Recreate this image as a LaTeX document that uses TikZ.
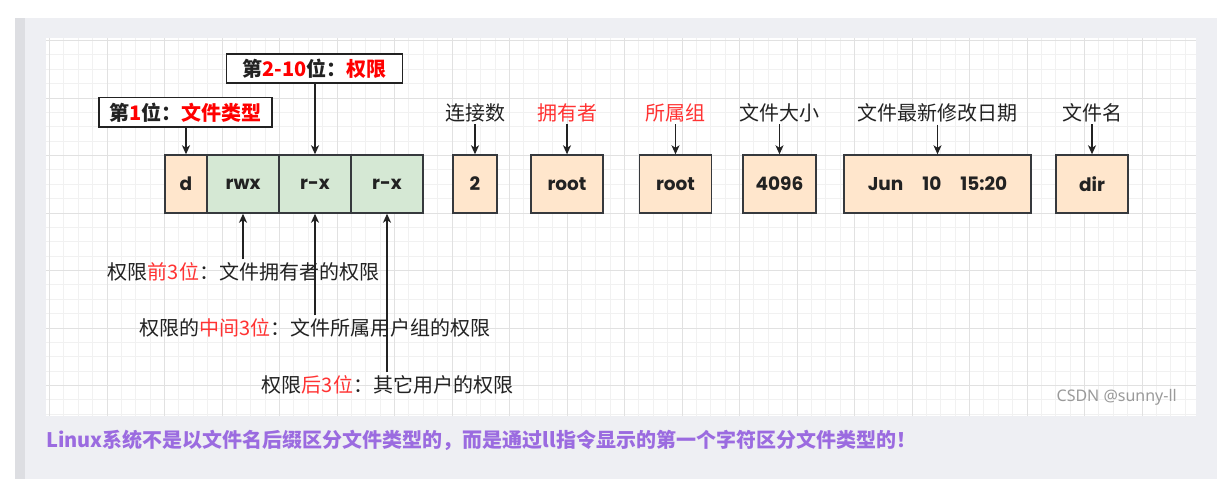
\documentclass[tikz,border=0pt]{standalone}
\usepackage{fontspec}
\setmainfont{Noto Sans CJK SC}
\newfontfamily\cjkfont{Noto Sans CJK SC}
\newfontfamily\cellfont{Poppins}
\newfontfamily\markfont{Noto Sans}
\usetikzlibrary{arrows.meta}
\definecolor{panelc}{HTML}{EEEFF3}
\definecolor{stripc}{HTML}{DDDEE2}
\definecolor{minorc}{HTML}{F1F1F1}
\definecolor{majorc}{HTML}{E1E1E1}
\definecolor{peachc}{HTML}{FFE6CC}
\definecolor{greenc}{HTML}{D5E8D4}
\definecolor{boxline}{HTML}{36393D}
\definecolor{ink}{HTML}{222222}
\definecolor{redc}{HTML}{FF3333}
\definecolor{tagred}{HTML}{FF0000}
\definecolor{capc}{HTML}{9B6BE0}
\definecolor{markc}{HTML}{9A9A9A}
\begin{document}
\begin{tikzpicture}[x=1pt,y=-1pt,
  cell/.style={draw=boxline, line width=1.4pt, minimum height=58pt, inner sep=0pt,
    font=\cellfont\bfseries\fontsize{18.5}{20}\selectfont, text=ink},
  peach/.style={cell, fill=peachc},
  greenbox/.style={cell, fill=greenc},
  lbl/.style={font=\cjkfont\fontsize{20}{22}\selectfont, text=ink, inner sep=2pt},
  redlbl/.style={lbl, text=redc},
  note/.style={font=\cjkfont\fontsize{20}{22}\selectfont, text=ink, inner sep=3pt},
  tagbox/.style={draw=ink, line width=1.4pt, fill=white, inner sep=0pt,
    font=\cjkfont\bfseries\fontsize{20}{22}\selectfont, text=ink},
  arr/.style={draw=ink, line width=1.3pt, -{Stealth[length=9pt,width=8pt,inset=2.5pt]}},
  minorline/.style={draw=minorc, line width=0.8pt},
  majorline/.style={draw=majorc, line width=1pt}]
\useasboundingbox (0,0) rectangle (1217,479);
\fill[white] (0,0) rectangle (1217,479);
\fill[panelc] (15,18) rectangle (1217,479);
\fill[stripc] (15,18) rectangle (25,479);
\fill[white] (46,38) rectangle (1196,416);
\begin{scope}
\clip (46,38) rectangle (1196,416);
\foreach \i in {0,...,79} \draw[minorline] ({49.5+\i*14.375},38) -- ++(0,378);
\foreach \j in {0,...,26} \draw[minorline] (46,{40.5+\j*14.375}) -- ++(1150,0);
\foreach \i in {0,...,19} \draw[majorline] ({49.5+\i*57.5},38) -- ++(0,378);
\foreach \j in {0,...,6} \draw[majorline] (46,{40.5+\j*57.5}) -- ++(1150,0);
\end{scope}

% permission cells
\node[peach, minimum width=42pt] (cd) at (186,184) {d};
\node[greenbox, minimum width=72pt] (cu) at (243,184) {rwx};
\node[greenbox, minimum width=72pt] (cg) at (315,184) {r-x};
\node[greenbox, minimum width=72pt] (co) at (387,184) {r-x};
% other fields
\node[peach, minimum width=44pt] (cn) at (475,184) {2};
\node[peach, minimum width=72pt] (cown) at (567,184) {root};
\node[peach, minimum width=72pt] (cgrp) at (675.5,184) {root};
\node[peach, minimum width=73pt] (csz) at (779.5,184) {4096};
\node[peach, minimum width=187pt] (cdt) at (937.5,184) {Jun\hspace{19pt}10\hspace{19pt}15:20};
\node[peach, minimum width=72pt] (cnm) at (1092,184) {dir};

% labels above
\node[lbl] (ln) at (475,113) {连接数};
\node[redlbl] (lown) at (567,113) {拥有者};
\node[redlbl] (lgrp) at (675.5,113) {所属组};
\node[lbl] (lsz) at (779.5,113) {文件大小};
\node[lbl] (ldt) at (937.5,113) {文件最新修改日期};
\node[lbl] (lnm) at (1092,113) {文件名};
\draw[arr] (ln.south) -- (cn.north);
\draw[arr] (lown.south) -- (cown.north);
\draw[arr] (lgrp.south) -- (cgrp.north);
\draw[arr] (lsz.south) -- (csz.north);
\draw[arr] (ldt.south) -- (cdt.north);
\draw[arr] (lnm.south) -- (cnm.north);

% tag boxes
\node[tagbox, minimum width=173pt, minimum height=29.5pt] (t1) at (185.5,112.4)
  {第{\color{tagred}1}位：{\color{tagred}文件类型}};
\node[tagbox, minimum width=176pt, minimum height=29pt] (t2) at (314.6,68.5)
  {第{\color{tagred}2-10}位：{\color{tagred}权限}};
\draw[arr] (t1.south -| cd.north) -- (cd.north);
\draw[arr] (t2.south -| cg.north) -- (cg.north);

% notes below
\node[note] (n1) at (243.5,272) {权限{\color{redc}前3位}：文件拥有者的权限};
\node[note] (n2) at (315,328) {权限的{\color{redc}中间3位}：文件所属用户组的权限};
\node[note] (n3) at (387.5,385) {权限{\color{redc}后3位}：其它用户的权限};
\draw[arr] (n1.north -| cu.south) -- (cu.south);
\draw[arr] (n2.north -| cg.south) -- (cg.south);
\draw[arr] (n3.north -| co.south) -- (co.south);

% watermark and caption
\node[anchor=east, inner sep=0pt, text=markc, font=\markfont\fontsize{16}{18}\selectfont] (wm) at (1177,397) {CSDN @sunny-ll};
\node[anchor=west, inner sep=0pt, text=capc, font=\cjkfont\bfseries\fontsize{20}{22}\selectfont] (cap) at (46,440)
  {Linux系统不是以文件名后缀区分文件类型的，而是通过ll指令显示的第一个字符区分文件类型的！};
\end{tikzpicture}
\end{document}
